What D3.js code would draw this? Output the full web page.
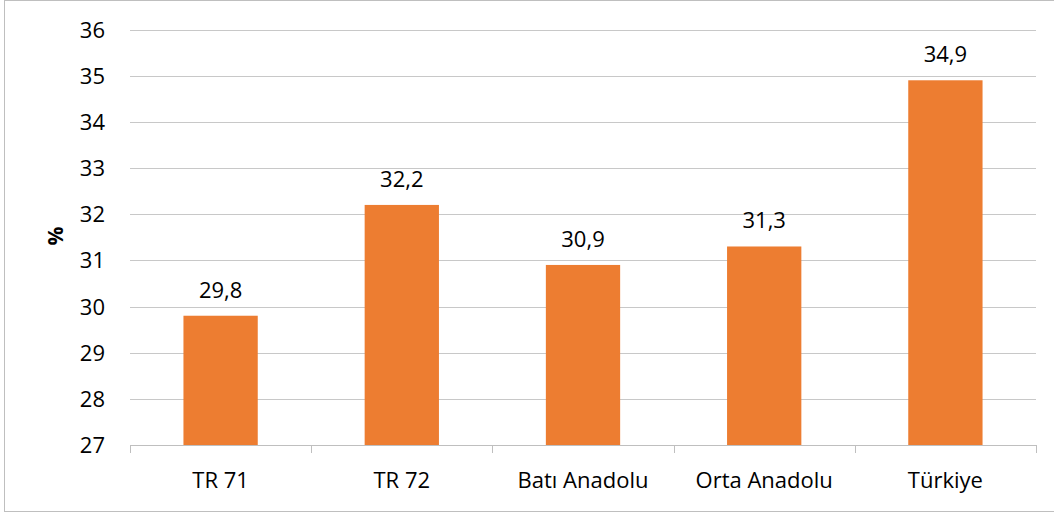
<!DOCTYPE html>
<html><head><meta charset="utf-8">
<script src="https://cdn.jsdelivr.net/npm/d3@7"></script>
<style>body{margin:0;background:#fff}svg{display:block}text{font-family:"Open Sans","Noto Sans",sans-serif}</style>
</head><body>
<script>
const categories = ["TR 71","TR 72","Batı Anadolu","Orta Anadolu","Türkiye"];
const values = [29.8, 32.2, 30.9, 31.3, 34.9];
const yTicks = [27,28,29,30,31,32,33,34,35,36];
const yLabel = "%";

const W = 1054, H = 513;
const FS = 22;
const svg = d3.select("body").append("svg").attr("width", W).attr("height", H);
svg.append("rect").attr("x",4.5).attr("y",0.5).attr("width",1060).attr("height",511)
  .attr("fill","#fff").attr("stroke","#bfbfbf").attr("stroke-width",1);

const x = d3.scaleBand().domain(categories).range([130,1036]).paddingInner(0.59).paddingOuter(0.295);
const y = d3.scaleLinear().domain([27,36]).range([445,29.5]);

const grid = svg.append("g");
grid.selectAll("line").data(yTicks.filter(t=>t>27)).join("line")
  .attr("x1",130).attr("x2",1036).attr("y1",d=>Math.round(y(d))+0.5).attr("y2",d=>Math.round(y(d))+0.5)
  .attr("stroke","#c8c8c8").attr("stroke-width",1);

svg.append("g").selectAll("text").data(yTicks).join("text")
  .attr("x",105).attr("y",d=>y(d)+8).attr("text-anchor","end")
  .attr("font-size",FS).attr("fill","#000").text(d=>d);

svg.append("g").selectAll("rect").data(values).join("rect")
  .attr("x",(d,i)=>x(categories[i])).attr("width",x.bandwidth())
  .attr("y",d=>y(d)).attr("height",d=>y(27)-y(d)).attr("fill","#ED7D31");

svg.append("g").selectAll("text").data(values).join("text")
  .attr("x",(d,i)=>x(categories[i])+x.bandwidth()/2).attr("y",d=>y(d)-18)
  .attr("text-anchor","middle").attr("font-size",FS).attr("fill","#000")
  .text(d=>d.toFixed(1).replace(".",","));

// x axis
const step = (1036-130)/categories.length;
const ax = svg.append("g");
ax.append("line").attr("x1",130).attr("x2",1036).attr("y1",445.5).attr("y2",445.5).attr("stroke","#bfbfbf");
ax.selectAll("line.t").data(d3.range(categories.length+1)).join("line").attr("class","t")
  .attr("x1",i=>Math.round(130+i*step)+0.5).attr("x2",i=>Math.round(130+i*step)+0.5)
  .attr("y1",445).attr("y2",453).attr("stroke","#bfbfbf");
ax.selectAll("text").data(categories).join("text")
  .attr("x",d=>x(d)+x.bandwidth()/2).attr("y",488)
  .attr("text-anchor","middle").attr("font-size",FS).attr("fill","#000").text(d=>d);

svg.append("text").attr("transform","translate(56,236) rotate(-90)")
  .attr("text-anchor","middle").attr("dy","0.35em").attr("font-size",21).attr("font-weight","bold")
  .attr("fill","#000").text(yLabel);
</script>
</body></html>
